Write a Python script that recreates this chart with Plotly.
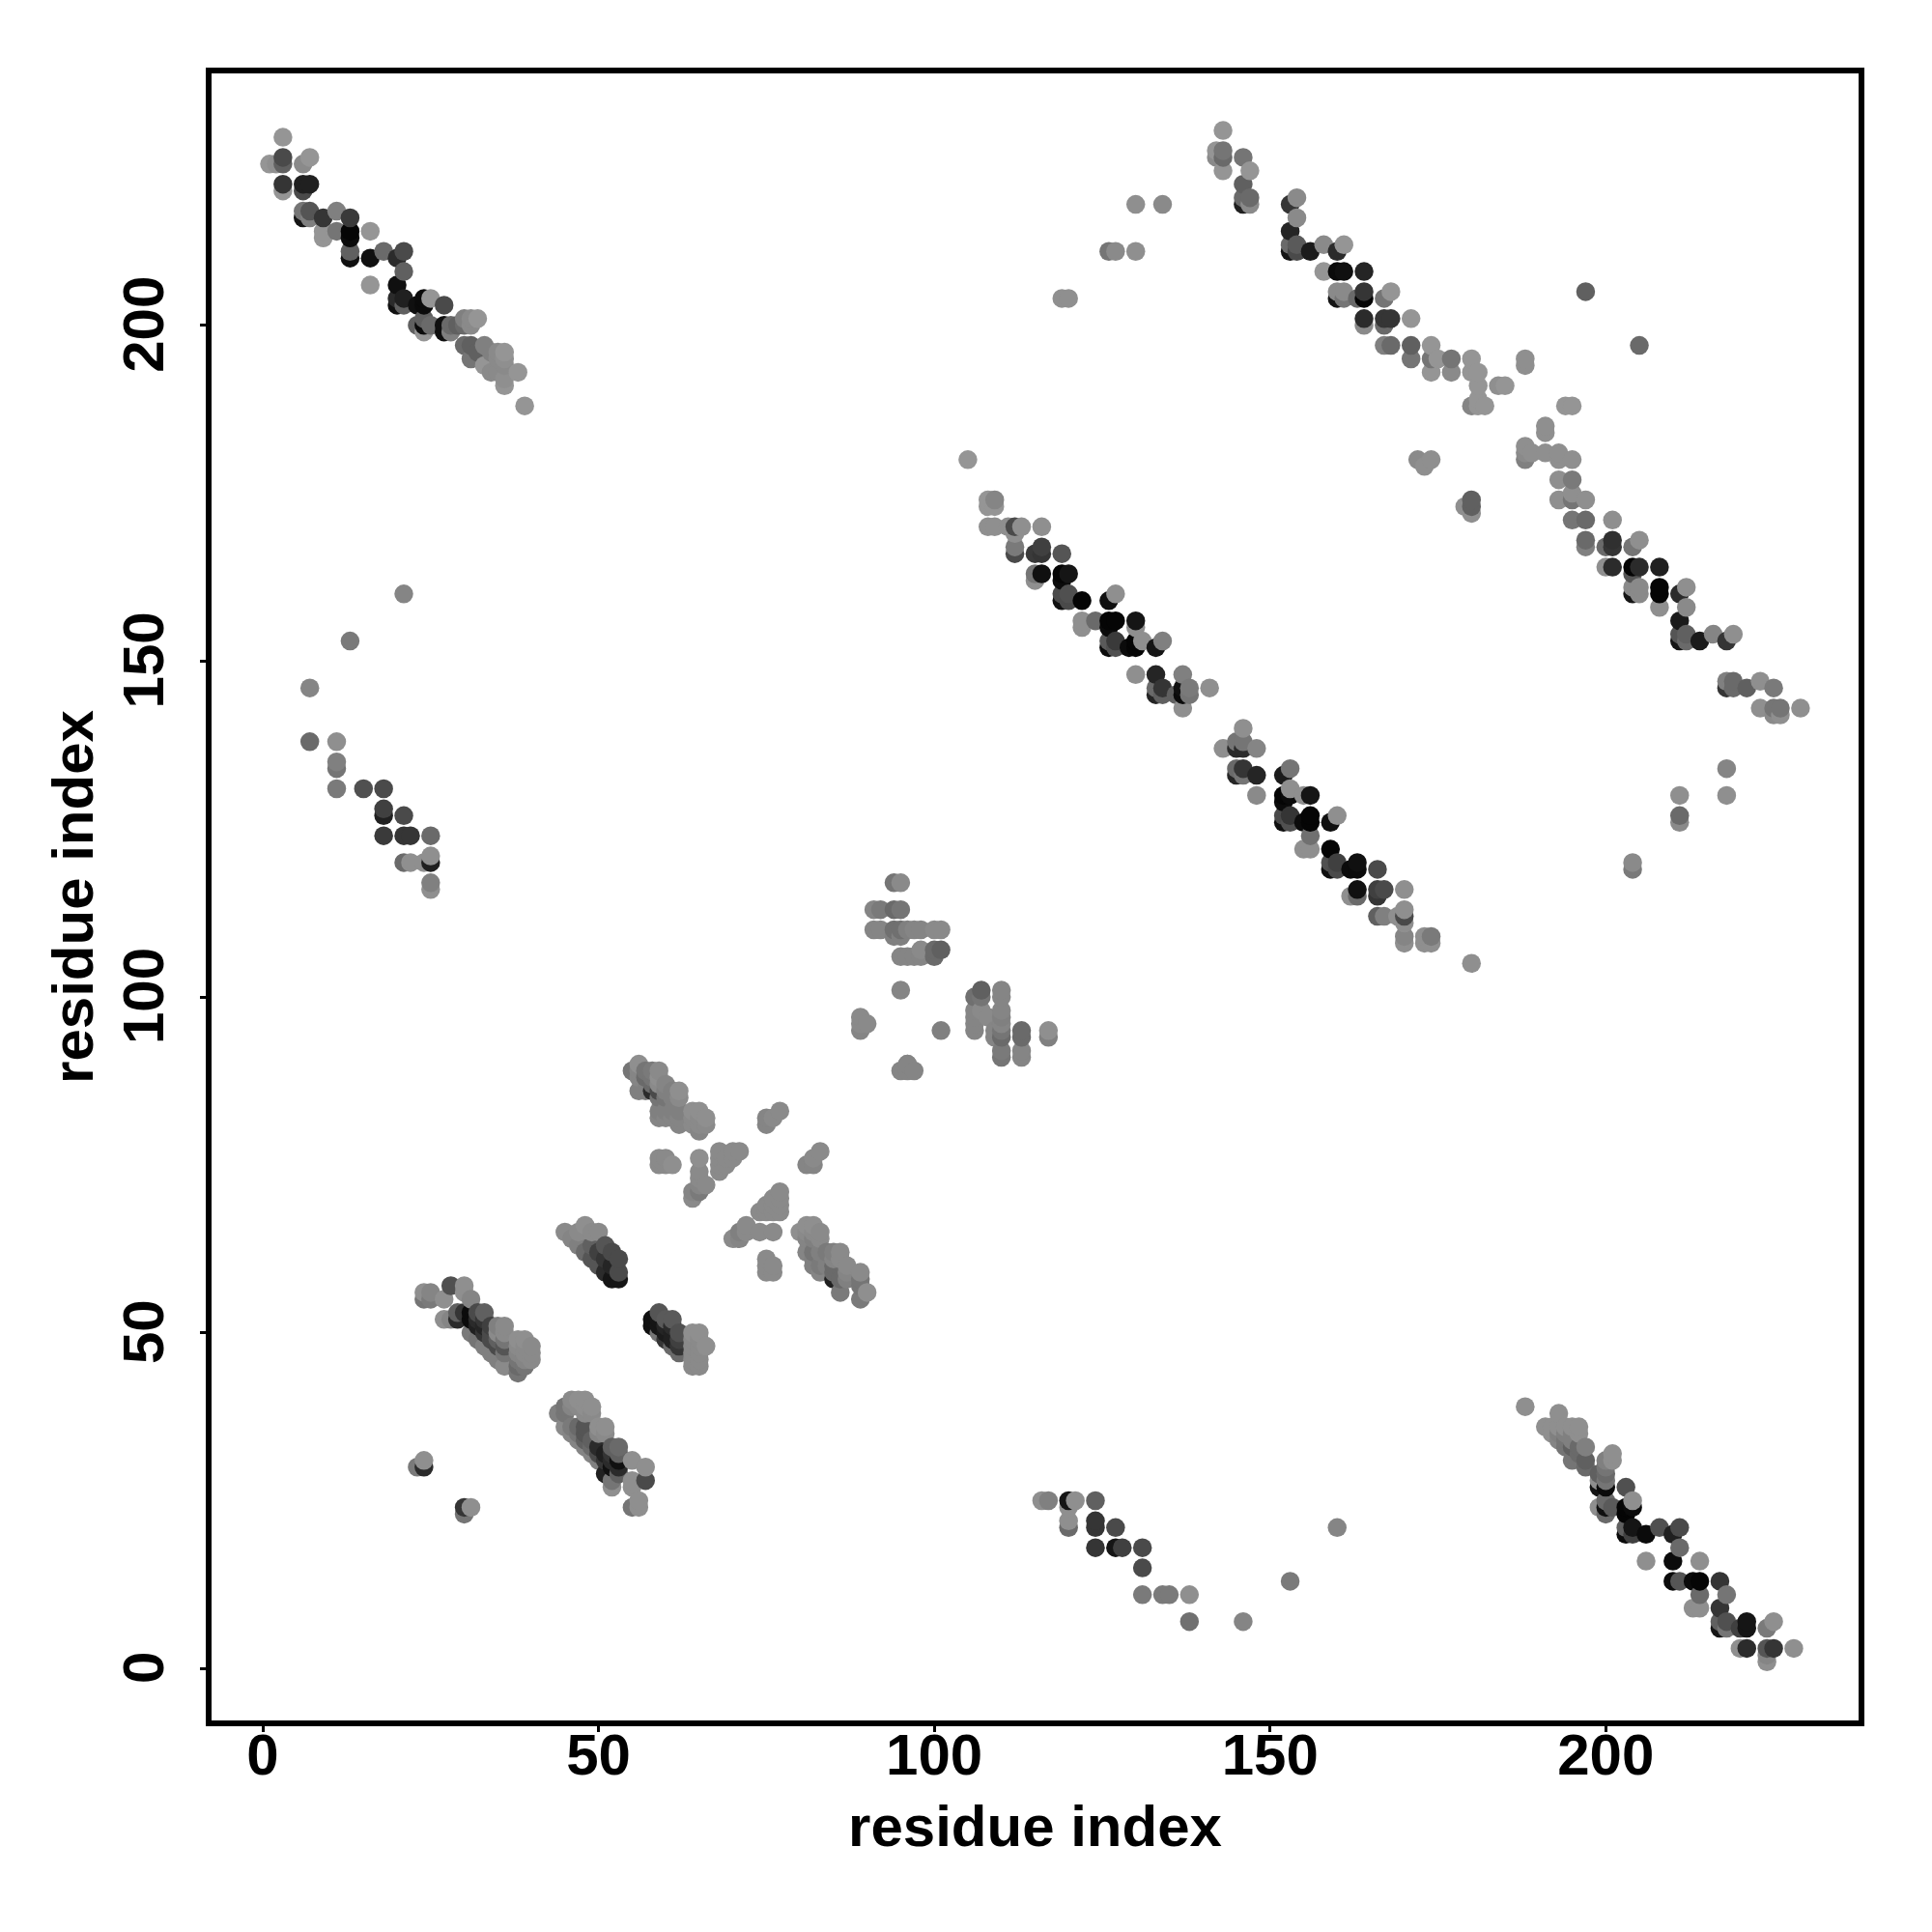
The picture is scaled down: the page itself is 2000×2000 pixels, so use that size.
import plotly.graph_objects as go

# (residue i, residue j, grey shade 0-255), by region
top_left = [(3,228,140),(1,224,140),(2,224,135),(3,224,90),(3,225,70),(3,221,50),(3,220,140),(6,224,130),(7,225,140),(6,221,30),(7,221,30),(6,220,70),(6,217,110),(6,216,20),(7,216,120),(7,217,80),(9,216,50),(11,217,120),(13,216,55),(9,214,140),(9,213,140),(11,214,110),(13,214,5),(13,213,10),(16,214,140),(13,211,90),(13,210,15),(16,210,15),(18,211,100),(20,210,40),(21,211,70),(16,206,140),(21,208,90),(20,206,15),(20,204,40),(20,203,15),(21,204,30),(21,203,90),(23,203,15),(24,204,10),(24,203,10),(25,204,140),(27,203,70),(23,200,90),(24,201,90),(24,199,140),(24,200,10),(25,200,100),(27,200,15),(27,199,15),(28,200,100),(28,199,120),(29,200,90),(30,201,120),(30,200,100),(31,201,130),(32,201,140),(31,200,130),(30,197,100),(31,197,90),(31,195,110),(32,196,90),(33,197,120),(33,194,140),(34,196,120),(35,196,130),(36,196,140),(35,195,130),(36,195,135),(34,193,130),(35,193,130),(36,194,130),(36,191,140),(36,192,135),(38,193,140),(39,188,140)]
top_right = [(143,229,140),(142,226,140),(142,225,130),(143,226,110),(143,225,100),(143,223,140),(146,225,110),(147,223,140),(146,221,90),(146,219,100),(146,218,30),(147,219,100),(147,218,130),(153,218,50),(154,219,130),(154,216,130),(153,214,35),(153,212,100),(153,211,20),(154,212,85),(154,211,70),(156,211,25),(158,212,130),(160,211,40),(161,212,140),(158,208,140),(160,208,10),(161,208,15),(164,208,35),(160,205,130),(160,204,20),(161,205,130),(161,204,110),(163,204,100),(164,205,50),(164,204,5),(167,204,110),(168,205,140),(164,201,40),(164,200,130),(167,201,50),(168,201,50),(167,200,100),(171,201,140),(167,197,120),(168,197,100),(171,197,90),(171,195,110),(174,197,140),(174,195,110),(175,195,140),(174,193,140),(177,195,110),(177,193,130),(180,195,140),(180,193,140),(181,193,140),(181,191,140),(180,188,125),(181,189,140),(181,188,140),(182,188,140),(184,191,135),(185,191,140),(188,195,135),(188,194,135)]
right_strip = [(194,188,140),(195,188,140),(191,185,135),(191,184,135),(188,182,135),(188,180,120),(188,181,130),(189,181,135),(191,181,135),(193,181,135),(193,180,135),(195,180,135),(193,177,135),(195,177,115),(193,174,135),(195,174,110),(195,175,135),(197,174,135),(195,171,110),(197,171,100),(201,171,135),(197,168,100),(197,167,120),(200,167,100),(201,168,45),(201,167,50),(204,167,110),(205,168,135),(200,164,135),(201,164,40),(204,164,5),(205,164,40),(204,163,80),(208,164,30),(204,161,130),(204,160,20),(205,161,130),(205,160,130),(208,161,5),(208,160,5),(208,158,135),(211,160,40),(212,161,135),(212,158,130),(211,156,25),(211,154,80),(211,153,20),(212,154,90),(212,153,100),(214,153,25),(216,154,125),(218,153,50),(219,154,135),(218,147,120),(218,146,50),(219,147,100),(219,146,100),(221,146,90),(223,147,135),(225,146,115),(223,143,135),(225,143,110),(225,142,130),(226,143,110),(226,142,135),(229,143,135),(205,197,100),(197,205,90)]
middle_upper = [(105,180,140),(108,174,140),(108,173,140),(109,174,125),(109,173,140),(108,170,135),(109,170,135),(111,170,135),(112,170,70),(113,170,135),(116,170,135),(112,169,135),(112,167,115),(112,166,70),(115,166,55),(116,167,60),(116,166,50),(119,166,80),(115,163,110),(115,162,135),(116,163,15),(119,163,5),(119,162,10),(120,163,20),(119,160,70),(119,159,15),(120,160,75),(120,159,70),(122,159,5),(126,159,15),(127,160,135),(122,156,135),(122,155,135),(124,156,100),(126,156,5),(126,155,10),(127,156,5),(130,156,20),(130,155,135),(126,153,85),(126,152,10),(127,153,55),(127,152,75),(129,152,10),(130,153,5),(130,152,5),(131,153,135),(133,152,20),(134,153,120),(130,148,135),(133,148,35),(133,146,100),(133,145,35),(134,146,50),(134,145,90),(136,145,90),(137,148,120),(137,146,15),(137,145,10),(138,146,115),(138,145,110),(137,143,135),(141,146,135)]
middle_lower = [(146,140,135),(143,137,135),(145,138,110),(146,138,110),(145,137,40),(146,137,40),(148,137,125),(145,134,100),(145,133,35),(146,134,50),(146,133,110),(148,133,35),(148,130,130),(152,133,25),(153,134,110),(152,130,5),(152,129,10),(153,131,135),(153,130,10),(155,130,135),(156,130,20),(152,127,70),(152,126,15),(153,127,50),(153,126,75),(155,126,10),(156,127,5),(156,126,5),(159,126,15),(160,127,135),(156,124,105),(155,122,135),(156,122,135),(159,122,5),(159,120,75),(159,119,15),(160,120,60),(160,119,70),(162,119,10),(163,120,15),(163,119,10),(166,119,70),(162,115,135),(163,116,15),(163,115,100),(166,116,60),(166,115,50),(167,116,70),(170,116,135),(166,112,90),(167,112,120),(169,112,135),(170,113,135),(170,112,70),(170,111,135),(170,109,125),(170,108,135),(173,109,135),(173,108,135),(174,109,115),(174,108,135),(180,105,135)]
left_mid = [(21,160,125),(13,153,115),(7,146,125),(7,138,100),(11,138,135),(11,135,120),(11,134,110),(11,131,115),(15,131,75),(18,131,70),(18,128,60),(18,127,30),(21,127,70),(18,124,55),(21,124,50),(22,124,50),(25,124,100),(21,120,100),(22,120,135),(24,120,135),(25,121,135),(25,120,30),(25,117,120),(25,116,135)]
bottom_mid = [(116,25,135),(117,25,120),(120,25,20),(121,25,135),(124,25,90),(120,24,135),(120,22,135),(120,21,100),(124,22,50),(124,21,50),(127,21,70),(160,21,125),(124,18,50),(127,18,20),(128,18,60),(131,18,70),(131,15,70),(131,11,115),(134,11,115),(135,11,115),(138,11,135),(153,13,115),(138,7,105),(146,7,125)]
bottom_right = [(188,39,135),(193,38,135),(191,36,135),(192,36,135),(193,36,135),(194,36,135),(195,36,135),(196,36,135),(192,35,135),(193,35,120),(194,35,120),(195,35,120),(196,35,135),(193,34,125),(194,34,110),(195,34,120),(194,33,110),(195,33,90),(196,33,100),(197,33,120),(195,31,110),(196,32,100),(197,31,90),(197,30,100),(200,31,120),(201,32,135),(201,31,135),(200,30,110),(199,29,90),(200,29,100),(199,27,20),(200,27,10),(199,28,135),(200,28,110),(203,27,75),(199,24,135),(200,25,100),(200,24,15),(200,23,100),(201,24,85),(203,24,5),(203,23,5),(204,24,10),(204,25,135),(203,21,90),(203,20,10),(204,21,20),(204,20,60),(206,20,10),(208,21,75),(210,20,30),(211,21,70),(211,18,100),(206,16,135),(210,16,10),(214,16,135),(210,13,10),(211,13,80),(213,13,10),(214,13,5),(217,13,50),(214,11,100),(213,9,135),(214,9,135),(218,11,110),(217,9,50),(217,7,90),(217,6,20),(218,7,75),(218,6,110),(220,6,60),(221,7,20),(221,6,20),(224,6,115),(225,7,135),(220,3,135),(221,3,40),(224,3,80),(225,3,50),(224,2,125),(224,1,135),(228,3,135)]
small_pairs = [(24,31,135),(23,30,115),(24,30,40),(30,24,50),(30,23,110),(31,24,135)]
band_a = [(24,56,135),(24,55,110),(25,56,125),(25,55,115),(28,57,75),(30,57,135),(27,55,135),(30,56,135),(31,55,125),(27,52,135),(28,52,125),(29,53,90),(29,52,40),(30,53,50),(31,53,10),(31,52,10),(31,50,115),(32,53,70),(33,53,90),(32,52,40),(32,51,30),(33,52,50),(33,51,35),(32,49,110),(33,50,50),(33,48,120),(34,51,60),(34,50,70),(34,49,70),(34,47,120),(35,51,120),(36,51,130),(35,50,130),(36,50,130),(35,49,90),(35,48,70),(35,46,120),(36,49,110),(36,48,80),(36,47,110),(36,45,130),(38,49,135),(39,49,135),(38,48,130),(39,48,130),(40,48,130),(38,47,125),(39,47,130),(40,47,130),(38,46,110),(39,46,125),(40,46,130),(38,44,110),(38,45,100),(39,45,110)]
band_b = [(44,38,120),(45,39,110),(46,40,130),(47,40,135),(48,40,135),(45,38,110),(46,39,125),(47,39,130),(48,39,135),(49,39,135),(48,38,130),(49,38,130),(45,36,130),(46,36,115),(46,35,125),(47,36,100),(47,35,110),(47,34,125),(48,36,80),(48,35,80),(48,34,90),(48,33,125),(49,34,90),(49,33,100),(49,32,125),(50,36,135),(51,36,135),(50,35,125),(51,35,130),(50,33,40),(50,32,70),(50,31,120),(51,32,30),(51,31,50),(52,33,90),(52,32,50),(52,31,40),(52,30,15),(53,33,100),(53,32,90),(53,30,40),(53,31,15),(51,29,30),(52,28,110),(52,27,135),(53,29,90),(55,31,135),(57,30,135),(57,28,70),(55,28,135),(55,27,135),(55,24,110),(56,25,135),(56,24,135)]
band_c = [(45,65,130),(46,64,125),(47,65,130),(48,66,135),(49,65,130),(50,65,130),(47,63,120),(48,62,100),(49,63,90),(49,61,80),(50,62,60),(50,60,80),(51,63,80),(51,61,50),(51,59,40),(52,62,70),(52,60,35),(52,58,20),(53,61,70),(53,59,70),(53,58,20)]
band_d = [(59,53,80),(58,52,15),(58,51,15),(59,52,20),(59,51,20),(60,52,85),(61,52,85),(59,50,110),(60,51,35),(60,50,25),(60,49,50),(61,51,40),(61,50,30),(61,49,30),(61,48,100),(62,50,75),(62,49,60),(62,48,50),(62,47,100),(64,50,135),(65,50,135),(64,49,130),(65,49,130),(66,48,135),(64,48,130),(65,48,130),(64,47,130),(65,47,130),(64,46,130),(65,46,130),(64,45,130),(65,45,130)]
cross_upper = [(56,90,135),(55,89,110),(56,89,125),(57,89,110),(58,89,115),(59,89,130),(56,88,125),(57,88,100),(58,88,110),(59,88,135),(56,86,120),(57,86,120),(58,87,100),(58,86,40),(59,87,130),(60,87,125),(59,86,70),(60,86,120),(62,86,135),(61,86,120),(59,85,110),(60,85,110),(62,85,130),(61,85,120),(59,83,120),(59,82,125),(60,83,120),(60,82,125),(61,83,120),(62,83,120),(62,81,125),(61,82,125),(62,82,125),(64,83,135),(65,83,135),(66,82,135),(64,82,130),(65,82,130),(66,81,130),(65,80,125),(64,81,130),(65,81,130),(77,83,130),(75,82,125),(75,81,125),(76,82,130),(83,77,130),(82,76,130),(81,75,125),(82,75,125)]
cross_centre = [(59,76,130),(60,76,130),(59,75,130),(60,75,130),(61,75,135),(65,76,135),(65,74,130),(65,73,130),(66,72,130),(65,72,125),(65,71,115),(64,71,125),(64,70,130),(68,77,130),(68,76,130),(68,75,130),(68,74,130),(69,76,130),(69,75,130),(70,76,130),(71,77,130),(70,77,130),(77,71,130),(76,70,130),(77,70,130),(75,69,130),(76,69,130),(77,69,130),(74,68,130),(75,68,130),(76,68,130),(77,68,130),(72,66,130),(71,65,120),(72,65,130),(74,65,130),(76,65,130),(70,64,130),(71,64,125),(75,61,130),(75,60,130),(76,60,130),(75,59,130),(76,59,130)]
cross_lower = [(80,65,135),(81,66,135),(82,66,135),(81,65,130),(82,65,130),(83,65,130),(81,64,125),(82,64,120),(83,64,130),(81,62,125),(82,62,110),(83,62,120),(82,61,120),(82,60,120),(83,60,115),(83,59,125),(84,62,115),(85,62,120),(86,62,130),(85,61,125),(86,61,130),(84,60,120),(85,60,100),(85,59,100),(85,58,30),(86,58,100),(86,56,115),(87,60,130),(87,59,125),(87,58,120),(89,59,130),(89,58,110),(89,57,110),(89,55,115),(90,56,135)]
centre_top = [(94,117,110),(95,117,130),(91,113,125),(92,113,115),(94,113,100),(95,113,110),(91,110,125),(92,110,125),(94,110,105),(95,110,105),(96,110,120),(97,110,125),(98,110,125),(100,110,130),(101,110,130),(94,109,120),(95,109,120),(95,106,125),(96,106,125),(97,106,125),(98,106,125),(98,107,130),(100,106,100),(100,107,100),(101,107,90),(95,101,125),(89,97,130),(89,95,125),(89,96,130),(90,96,130),(101,95,120),(95,89,125),(96,90,125),(97,89,125),(96,89,125),(96,90,125)]
centre_right = [(106,100,105),(107,101,90),(107,100,110),(106,98,125),(106,97,125),(106,96,125),(106,95,125),(107,98,130),(108,97,130),(109,95,125),(109,94,125),(110,101,125),(110,100,125),(110,98,125),(110,97,120),(110,96,125),(110,95,110),(110,94,100),(110,92,115),(110,91,110),(113,95,100),(113,94,100),(113,92,125),(113,91,125),(117,95,135),(117,94,120)]
sparse = [(119,204,135),(120,204,135),(126,211,110),(127,211,130),(130,211,135),(130,218,135),(134,218,130),(172,180,130),(173,179,135),(174,180,135),(180,173,90),(180,174,90),(179,173,135),(180,172,135),(218,134,125),(218,130,135),(211,130,135),(211,127,100),(211,126,130),(204,120,130),(204,119,115)]

x_ticks = [0, 50, 100, 150, 200]
y_ticks = [0, 50, 100, 150, 200]
x_label = "residue index"
y_label = "residue index"

contacts = sorted(top_left + top_right + right_strip + middle_upper + middle_lower + left_mid
                  + bottom_mid + bottom_right + small_pairs + band_a + band_b + band_c + band_d
                  + cross_upper + cross_centre + cross_lower + centre_top + centre_right + sparse,
                  key=lambda p: (p[0], p[1]))

fig = go.Figure(go.Scatter(
    x=[p[0] for p in contacts], y=[p[1] for p in contacts], mode="markers",
    marker=dict(size=19.5, color=[p[2] for p in contacts], cmin=0, cmax=240,
                colorscale=[[0, "rgb(0,0,0)"], [1, "rgb(255,255,255)"]], showscale=False,
                line=dict(width=0)),
    hoverinfo="x+y"))

font = dict(family="Liberation Sans", size=60, color="black", weight=700)
axis = dict(showline=True, mirror=True, linecolor="black", linewidth=6, showgrid=False, zeroline=False,
            ticks="outside", ticklen=6, tickwidth=3, tickcolor="black", tickfont=font)
fig.update_xaxes(axis, range=[-7.63, 237.65], tickvals=x_ticks, ticklabelstandoff=-28,
                 title=dict(text=x_label, font=font, standoff=22))
fig.update_yaxes(axis, range=[-7.72, 237.5], tickvals=y_ticks, tickangle=-90, ticklabelstandoff=14,
                 ticklabelshift=8, title=dict(text=y_label, font=font, standoff=1))
fig.update_layout(width=2000, height=2000, autosize=False, showlegend=False,
                  margin=dict(l=211.3, r=84, t=67.7, b=227, pad=0, autoexpand=False),
                  paper_bgcolor="white", plot_bgcolor="white")
fig.write_html("out.html")
